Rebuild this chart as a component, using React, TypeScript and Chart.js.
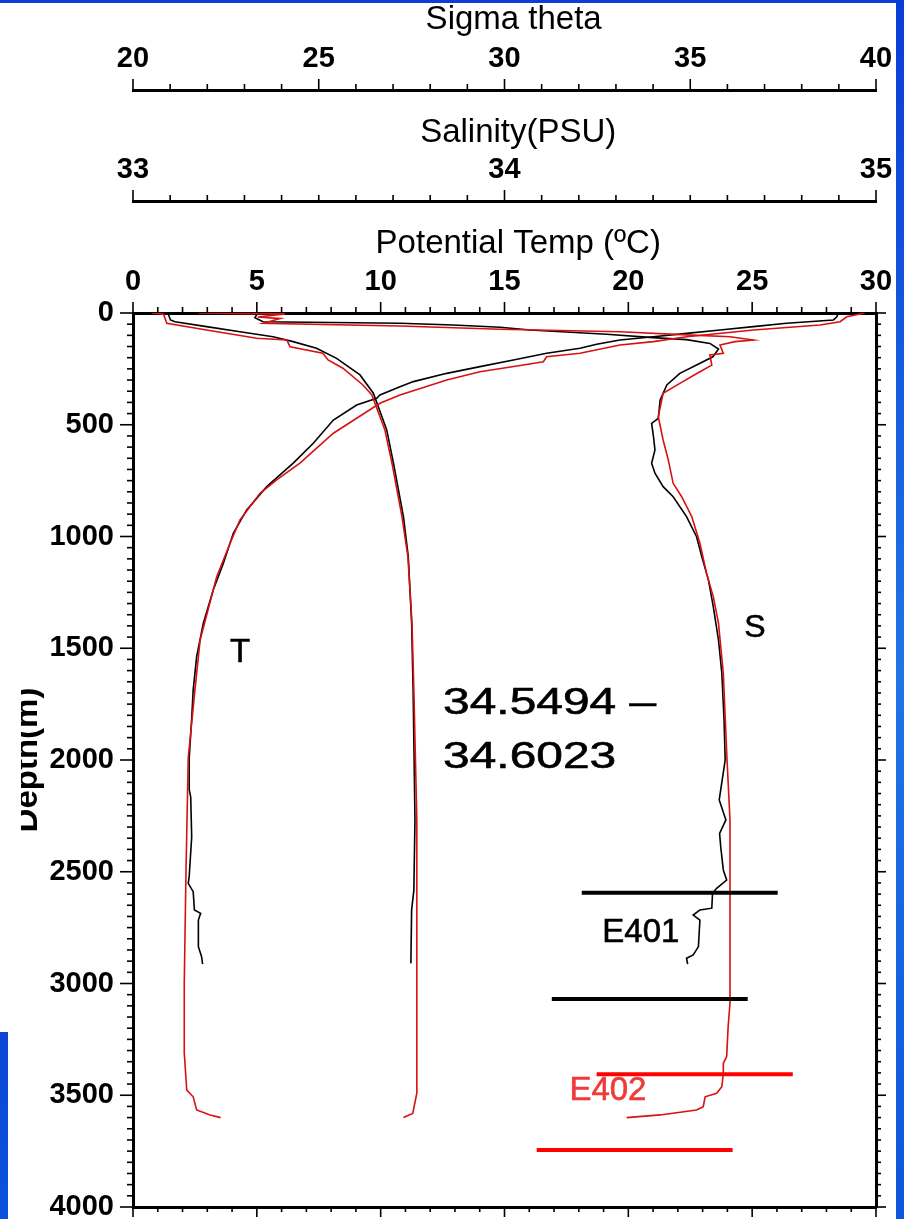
import React, { useEffect, useRef } from 'react';
import { Chart, registerables } from 'chart.js';

Chart.register(...registerables);

// ---------------- Tick labels (major ticks) ----------------
const sigmaTicks = [20, 25, 30, 35, 40];
const salinityTicks = [33, 34, 35];
const tempTicks = [0, 5, 10, 15, 20, 25, 30];
const depthTicks = [0, 500, 1000, 1500, 2000, 2500, 3000, 3500, 4000];

// ---------------- Potential temperature (°C) ----------------
const tempE401Depth = [0, 18, 31, 46, 61, 76, 91, 106, 121, 140, 158, 180, 210, 240, 270, 307, 330, 367, 382, 412, 479, 583, 672, 777, 881, 986, 1120, 1239, 1388, 1538, 1687, 1814, 1991, 2132, 2166, 2345, 2519, 2552, 2589, 2671, 2686, 2716, 2835, 2880, 2913];
const tempE401 = [28.48, 28.41, 28.28, 26.39, 25.05, 23.7, 22.36, 21.01, 19.66, 18.72, 18.05, 16.7, 15.36, 14.01, 12.67, 11.32, 10.78, 9.97, 9.84, 9.03, 8.09, 7.28, 6.47, 5.4, 4.59, 4.05, 3.65, 3.24, 2.84, 2.57, 2.43, 2.37, 2.27, 2.27, 2.33, 2.37, 2.27, 2.23, 2.43, 2.48, 2.73, 2.64, 2.64, 2.77, 2.81];

const tempE402Depth = [0, 17, 39, 54, 76, 106, 128, 143, 180, 196, 218, 233, 263, 300, 367, 404, 538, 672, 747, 807, 926, 1030, 1180, 1463, 1687, 1991, 2497, 2998, 3253, 3311, 3477, 3507, 3566, 3588, 3600];
const tempE402 = [29.55, 28.82, 28.55, 27.74, 25.05, 22.36, 21.01, 19.66, 18.05, 16.7, 16.57, 15.76, 14.01, 12.67, 10.78, 9.97, 8.09, 6.74, 5.8, 5.13, 4.32, 3.92, 3.38, 2.71, 2.5, 2.23, 2.14, 2.07, 2.07, 2.07, 2.17, 2.43, 2.57, 3.11, 3.54];

// ---------------- Sigma theta ----------------
const sigE401Depth = [0, 5, 31, 39, 61, 84, 106, 128, 158, 203, 277, 359, 523, 671, 911, 1090, 1387, 1687, 2268, 2582, 2671, 2910];
const sigE401 = [20.77, 20.95, 21.01, 21.13, 21.98, 22.88, 23.77, 24.31, 24.94, 25.48, 26.11, 26.47, 26.83, 27.01, 27.28, 27.41, 27.5, 27.54, 27.59, 27.56, 27.5, 27.48];

const sigE402Depth = [0, 5, 9, 46, 76, 113, 121, 151, 180, 210, 247, 322, 367, 523, 671, 911, 1090, 1387, 1687, 2268, 3311, 3491, 3581, 3600];
const sigE402 = [20.5, 20.81, 20.83, 20.91, 21.98, 23.33, 24.14, 24.23, 25.11, 25.25, 25.65, 26.19, 26.43, 26.78, 26.97, 27.24, 27.4, 27.51, 27.56, 27.64, 27.64, 27.64, 27.53, 27.28];

// ---------------- Salinity (PSU) ----------------
const salE401Depth = [0, 21, 39, 46, 54, 64, 76, 95, 110, 119, 136, 161, 196, 233, 270, 322, 389, 471, 494, 553, 613, 672, 717, 777, 822, 911, 1001, 1090, 1195, 1314, 1463, 1612, 1821, 2000, 2134, 2179, 2268, 2328, 2388, 2492, 2537, 2574, 2596, 2663, 2671, 2694, 2716, 2835, 2872, 2887, 2913];
const salE401 = [33.336, 33.328, 33.35, 33.719, 33.862, 33.988, 34.069, 34.275, 34.4, 34.49, 34.553, 34.576, 34.561, 34.517, 34.472, 34.437, 34.419, 34.414, 34.396, 34.401, 34.405, 34.396, 34.405, 34.427, 34.454, 34.49, 34.517, 34.531, 34.549, 34.562, 34.576, 34.585, 34.591, 34.594, 34.582, 34.578, 34.596, 34.579, 34.582, 34.589, 34.598, 34.571, 34.56, 34.558, 34.526, 34.508, 34.526, 34.522, 34.508, 34.49, 34.493];

const salE402Depth = [0, 2, 4, 18, 25, 46, 58, 73, 84, 98, 106, 121, 128, 143, 180, 188, 233, 263, 315, 359, 464, 568, 658, 762, 822, 911, 1030, 1165, 1269, 1388, 1612, 2000, 2268, 3087, 3193, 3327, 3357, 3402, 3462, 3491, 3507, 3551, 3566, 3588, 3600];
const salE402 = [33.175, 33.253, 33.409, 33.336, 33.396, 33.351, 33.719, 33.988, 34.311, 34.49, 34.607, 34.67, 34.62, 34.58, 34.589, 34.553, 34.558, 34.526, 34.472, 34.427, 34.414, 34.427, 34.441, 34.454, 34.477, 34.504, 34.526, 34.544, 34.562, 34.576, 34.589, 34.599, 34.607, 34.607, 34.602, 34.598, 34.589, 34.589, 34.585, 34.571, 34.54, 34.535, 34.517, 34.419, 34.329];

// ---------------- Station marker bars (temperature-axis units, depth m) ----------------
const barE401Depth = [2594, 3069];
const barE401Start = [18.12, 16.91];
const barE401End = [26.03, 24.82];
const barE402Depth = [3406, 3745];
const barE402Start = [18.72, 16.3];
const barE402End = [26.64, 24.21];

const FONT = "'Liberation Sans', Arial, Helvetica, sans-serif";
const BLACK = '#000000';
const CURVE_RED = '#d81010';
const BAR_RED = '#ff0000';

const annotations = [
  { text: 'T', temp: 4.32, depth: 1521, size: 33, color: BLACK, align: 'center', stretch: 1 },
  { text: 'S', temp: 25.11, depth: 1409, size: 32, color: BLACK, align: 'center', stretch: 1 },
  { text: '34.5494 –', temp: 12.52, depth: 1749, size: 36, color: BLACK, align: 'left', stretch: 1.33 },
  { text: '34.6023', temp: 12.52, depth: 1991, size: 36, color: BLACK, align: 'left', stretch: 1.33 },
  { text: 'E401', temp: 18.95, depth: 2772, size: 33, color: BLACK, align: 'left', stretch: 1 },
  { text: 'E402', temp: 17.62, depth: 3481, size: 33, color: '#f03a3a', align: 'left', stretch: 1 },
];

const near = (list: number[], v: number) => list.some((l) => Math.abs(l - v) < 1e-6);

const tickMarks: any = {
  id: 'tickMarks',
  afterDraw(chart: any) {
    const ctx = chart.ctx;
    const specs = [
      { id: 'sigma', labels: sigmaTicks, side: 'top', maj: 11, min: 6 },
      { id: 'sal', labels: salinityTicks, side: 'top', maj: 11, min: 6 },
      { id: 'temp', labels: tempTicks, side: 'top', maj: 11, min: 6 },
      { id: 'tempBottom', labels: tempTicks, side: 'bottom', maj: 10, min: 5 },
      { id: 'depth', labels: depthTicks, side: 'left', maj: 13, min: 6 },
      { id: 'depthRight', labels: depthTicks, side: 'right', maj: 10, min: 5 },
    ];
    ctx.save();
    ctx.strokeStyle = BLACK;
    ctx.lineWidth = 1.6;
    for (const sp of specs) {
      const s = chart.scales[sp.id];
      if (!s) continue;
      for (const t of s.ticks) {
        const len = near(sp.labels, t.value) ? sp.maj : sp.min;
        const p = s.getPixelForValue(t.value);
        ctx.beginPath();
        if (sp.side === 'top') { ctx.moveTo(p, s.bottom); ctx.lineTo(p, s.bottom - len); }
        else if (sp.side === 'bottom') { ctx.moveTo(p, s.top); ctx.lineTo(p, s.top + len); }
        else if (sp.side === 'left') { ctx.moveTo(s.right, p); ctx.lineTo(s.right - len, p); }
        else { ctx.moveTo(s.left, p); ctx.lineTo(s.left + len, p); }
        ctx.stroke();
      }
    }
    ctx.restore();
  },
};

const annotate: any = {
  id: 'annotate',
  afterDatasetsDraw(chart: any) {
    const ctx = chart.ctx;
    const xs = chart.scales.temp;
    const ys = chart.scales.depth;
    for (const a of annotations) {
      ctx.save();
      ctx.font = `${a.size}px ${FONT}`;
      ctx.fillStyle = a.color;
      ctx.strokeStyle = a.color;
      ctx.lineWidth = 0.6;
      ctx.textBaseline = 'middle';
      ctx.textAlign = a.align;
      ctx.translate(xs.getPixelForValue(a.temp), ys.getPixelForValue(a.depth));
      ctx.scale(a.stretch, 1);
      ctx.fillText(a.text, 0, 0);
      ctx.strokeText(a.text, 0, 0);
      ctx.restore();
    }
  },
};

export default function App() {
  const ref = useRef<HTMLCanvasElement>(null);

  useEffect(() => {
    const canvas = ref.current;
    if (!canvas) return;
    Chart.defaults.font.family = FONT;
    Chart.defaults.color = BLACK;

    const pts = (xs: number[], ys: number[]) => xs.map((x, i) => ({ x, y: ys[i] }));
    const curve = (label: string, data: any[], xAxisID: string, color: string, order: number) => ({
      label, data, xAxisID, yAxisID: 'depth', borderColor: color, backgroundColor: color,
      borderWidth: 1.6, pointRadius: 0, showLine: true, fill: false, tension: 0, order,
    });
    const bars = (prefix: string, d: number[], s: number[], e: number[], color: string) =>
      d.map((dep, i) => ({
        label: `${prefix} ${i + 1}`, data: [{ x: s[i], y: dep }, { x: e[i], y: dep }],
        xAxisID: 'temp', yAxisID: 'depth', borderColor: color, backgroundColor: color,
        borderWidth: 4, pointRadius: 0, showLine: true, fill: false, order: 0,
      }));

    const datasets: any[] = [
      curve('Temp E401', pts(tempE401, tempE401Depth), 'temp', BLACK, 2),
      curve('Sigma E401', pts(sigE401, sigE401Depth), 'sigma', BLACK, 2),
      curve('Salinity E401', pts(salE401, salE401Depth), 'sal', BLACK, 2),
      curve('Temp E402', pts(tempE402, tempE402Depth), 'temp', CURVE_RED, 1),
      curve('Sigma E402', pts(sigE402, sigE402Depth), 'sigma', CURVE_RED, 1),
      curve('Salinity E402', pts(salE402, salE402Depth), 'sal', CURVE_RED, 1),
      ...bars('E401', barE401Depth, barE401Start, barE401End, BLACK),
      ...bars('E402', barE402Depth, barE402Start, barE402End, BAR_RED),
    ];

    const labelFont = { size: 29, weight: 'bold' as const };
    const titleFont = { size: 33 };
    const topAxis = (min: number, max: number, step: number, labels: number[], title: string, weight: number, titlePad: number, height: number) => ({
      type: 'linear', axis: 'x', position: 'top', min, max, weight,
      grid: { display: false, drawTicks: false },
      border: { display: true, color: BLACK, width: 3 },
      ticks: {
        stepSize: step, autoSkip: false, maxRotation: 0, minRotation: 0, padding: 14,
        font: labelFont, color: BLACK,
        callback: (v: any) => (near(labels, Number(v)) ? String(Math.round(Number(v))) : ''),
      },
      title: { display: true, text: title, font: titleFont, color: BLACK, padding: { top: titlePad, bottom: 0 } },
      afterFit: (s: any) => { s.height = height; s.paddingLeft = 0; s.paddingRight = 0; },
    });

    const chart = new Chart(canvas, {
      type: 'scatter',
      data: { datasets },
      options: {
        animation: false,
        responsive: false,
        maintainAspectRatio: false,
        events: [],
        layout: { padding: 0, autoPadding: false },
        plugins: { legend: { display: false }, tooltip: { enabled: false } },
        scales: {
          temp: topAxis(0, 30, 1, tempTicks, '   Potential Temp (ºC)', 0, 23, 112),
          sal: topAxis(33, 35, 0.1, salinityTicks, '   Salinity(PSU)', 1, 23, 111),
          sigma: topAxis(20, 40, 1, sigmaTicks, '  Sigma theta', 2, 0, 90),
          tempBottom: {
            type: 'linear', axis: 'x', position: 'bottom', min: 0, max: 30,
            grid: { display: false, drawTicks: false },
            border: { display: true, color: BLACK, width: 3 },
            ticks: { display: false, stepSize: 1, autoSkip: false },
            afterFit: (s: any) => { s.height = 12; s.paddingLeft = 0; s.paddingRight = 0; },
          },
          depth: {
            type: 'linear', axis: 'y', position: 'left', min: 0, max: 4000, reverse: true,
            grid: { display: false, drawTicks: false },
            border: { display: true, color: BLACK, width: 3 },
            ticks: {
              stepSize: 50, autoSkip: false, padding: 19, font: labelFont, color: BLACK,
              callback: (v: any) => (near(depthTicks, Number(v)) ? String(Number(v)) : ''),
            },
            title: { display: true, text: 'Depth(m)', font: { size: 33, weight: 'bold' }, color: BLACK, padding: { top: 8, bottom: 0 } },
            afterFit: (s: any) => { s.width = 133; s.paddingTop = 0; s.paddingBottom = 0; },
          },
          depthRight: {
            type: 'linear', axis: 'y', position: 'right', min: 0, max: 4000, reverse: true,
            grid: { display: false, drawTicks: false },
            border: { display: true, color: BLACK, width: 3 },
            ticks: { display: false, stepSize: 50, autoSkip: false },
            afterFit: (s: any) => { s.width = 28; s.paddingTop = 0; s.paddingBottom = 0; },
          },
        },
      } as any,
      plugins: [tickMarks, annotate],
    } as any);

    return () => chart.destroy();
  }, []);

  return (
    <div style={{ position: 'fixed', left: 0, top: 0, width: 904, height: 1219, background: '#ffffff', overflow: 'hidden' }}>
      <canvas ref={ref} width={904} height={1219} style={{ position: 'absolute', left: 0, top: 0, width: 904, height: 1219 }} />
      <div style={{ position: 'absolute', left: 0, top: 678, width: 21, height: 170, background: '#ffffff' }} />
      <div style={{ position: 'absolute', left: 0, top: 0, width: 904, height: 3, background: '#0b3fd4' }} />
      <div style={{ position: 'absolute', left: 896, top: 0, width: 8, height: 1219, background: 'linear-gradient(#0a3cd4, #1f74e6 55%, #0d55dc)' }} />
      <div style={{ position: 'absolute', left: 0, top: 1032, width: 8, height: 187, background: 'linear-gradient(#0a46d6, #0a52dc)' }} />
    </div>
  );
}
